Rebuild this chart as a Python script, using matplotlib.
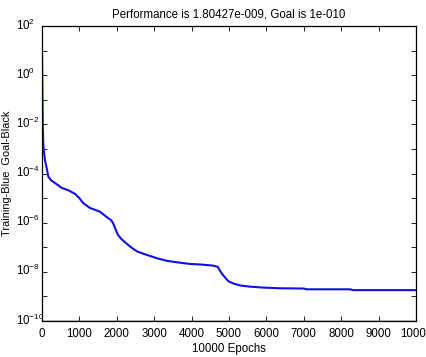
import matplotlib
matplotlib.use("Agg")
import matplotlib.pyplot as plt
import matplotlib.transforms as mtransforms
from matplotlib.ticker import FixedLocator, FixedFormatter, NullLocator

plt.rcParams['font.family'] = ['Liberation Sans', 'DejaVu Sans']
plt.rcParams['mathtext.fontset'] = 'custom'
plt.rcParams['mathtext.rm'] = 'Liberation Sans'
plt.rcParams['mathtext.it'] = 'Liberation Sans'
plt.rcParams['font.size'] = 8.3

title = "Performance is 1.80427e-009, Goal is 1e-010"
xlabel = "10000 Epochs"
ylabel = "Training-Blue  Goal-Black"
goal = 1e-10

epochs = [0, 10, 20, 36, 80, 125, 170, 250, 350, 530, 700, 880, 1000, 1100,
          1280, 1550, 1730, 1850, 1900, 1950, 2030,
          2120, 2220, 2380, 2540, 2800, 3100, 3340, 3650, 3960, 4220, 4570, 4700,
          4760, 4850, 4980, 5110, 5300, 5560, 5900, 6360, 7000, 7080, 8240, 8320,
          10000]
perf = [6.3, 3.2e-1, 1.0e-2, 1.26e-3, 3.5e-4, 1.66e-4, 7.4e-5, 5.2e-5, 4.1e-5,
        2.6e-5, 2.1e-5, 1.5e-5, 1.0e-5, 6.3e-6, 4.0e-6, 2.8e-6, 1.7e-6,
        1.26e-6, 9.5e-7, 6.3e-7, 3.2e-7,
        2.2e-7, 1.6e-7, 1.0e-7, 6.8e-8, 4.9e-8, 3.5e-8, 2.8e-8, 2.4e-8, 2.1e-8,
        2.0e-8, 1.8e-8, 1.6e-8, 1.1e-8, 7.1e-9, 4.2e-9, 3.4e-9, 2.8e-9, 2.5e-9,
        2.3e-9, 2.15e-9, 2.1e-9, 1.95e-9, 1.95e-9, 1.80427e-9, 1.80427e-9]

xticks = [0, 1000, 2000, 3000, 4000, 5000, 6000, 7000, 8000, 9000, 10000]
ydecades = [-10, -9, -8, -7, -6, -5, -4, -3, -2, -1, 0, 1, 2]

fig = plt.figure(figsize=(4.27, 3.57), dpi=100)
ax = fig.add_axes([0.0984, 0.1008, 0.8756, 0.8262])

ax.plot(epochs, perf, color='#1010e6', lw=1.5)
ax.axhline(goal, color='black', lw=1.0)

ax.set_yscale('log')
ax.set_xlim(0, 10000)
ax.set_ylim(1e-10, 1e2)

yt = [10.0 ** d for d in ydecades]
ylabels = [r'$\mathregular{10^{%d}}$' % d if d % 2 == 0 else '' for d in ydecades]
ax.yaxis.set_major_locator(FixedLocator(yt))
ax.yaxis.set_major_formatter(FixedFormatter(ylabels))
ax.yaxis.set_minor_locator(NullLocator())
ax.set_xticks(xticks)
ax.set_xticklabels([str(t) for t in xticks])

ax.tick_params(direction='in', length=3.5, width=0.6, top=True, right=True,
               labelsize=8.3)
ax.tick_params(axis='x', pad=5)
ax.tick_params(axis='y', pad=19)
shift_up = mtransforms.ScaledTranslation(0, 1.8 / 72, fig.dpi_scale_trans)
for lbl in ax.get_yticklabels():
    lbl.set_horizontalalignment('left')
    lbl.set_transform(lbl.get_transform() + shift_up)
for s in ax.spines.values():
    s.set_linewidth(0.9)

ax.set_title(title, fontsize=8.3, pad=6)
ax.set_xlabel(xlabel, fontsize=8.3, labelpad=2)
ax.set_ylabel(ylabel, fontsize=7.9)
ax.yaxis.set_label_coords(-0.080, 0.5)

fig.savefig('out.png', dpi=100)
